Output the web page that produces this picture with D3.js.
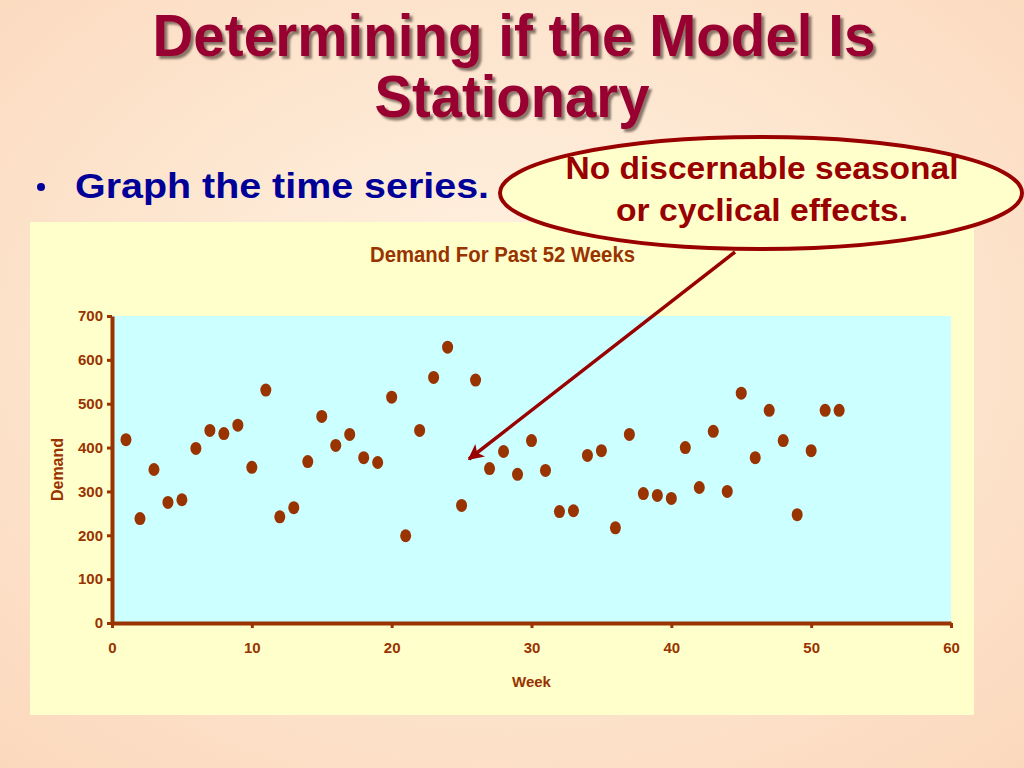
<!DOCTYPE html>
<html>
<head>
<meta charset="utf-8">
<script src="https://cdn.jsdelivr.net/npm/d3@7"></script>
<style>
  body { margin: 0; padding: 0; overflow: hidden; }
  svg { display: block; }
</style>
</head>
<body>
<div id="chart"></div>
<script>
const width = 1024;
const height = 768;

const weeks = d3.range(1, 53);
const demand = [
  418, 238, 350, 275, 281, 398, 439, 432, 451, 355,
  531, 242, 263, 368, 471, 405, 430, 377, 366, 515,
  199, 439, 560, 629, 268, 554, 352, 391, 339, 416,
  348, 254, 256, 382, 393, 217, 430, 295, 291, 284,
  400, 309, 437, 300, 524, 377, 485, 416, 247, 393,
  485, 485
];
const xTicks = [0, 10, 20, 30, 40, 50, 60];
const yTicks = [0, 100, 200, 300, 400, 500, 600, 700];

const sans = "'Liberation Sans', Arial, sans-serif";
const brown = "#993300";

const svg = d3.select("#chart")
    .append("svg")
    .attr("width", width)
    .attr("height", height);

const defs = svg.append("defs");
const bg = defs.append("radialGradient")
    .attr("id", "bg")
    .attr("cx", "50%").attr("cy", "45%").attr("r", "75%");
bg.append("stop").attr("offset", "0%").attr("stop-color", "#fff4e4");
bg.append("stop").attr("offset", "100%").attr("stop-color", "#fbd8bc");

defs.append("filter").attr("id", "shadow")
    .append("feDropShadow")
    .attr("dx", 3).attr("dy", 3).attr("stdDeviation", 0.8)
    .attr("flood-color", "#4a3a30").attr("flood-opacity", 0.65);

defs.append("marker")
    .attr("id", "head")
    .attr("viewBox", "0 0 10 10")
    .attr("refX", 9).attr("refY", 5)
    .attr("markerWidth", 5.5).attr("markerHeight", 4.5)
    .attr("orient", "auto")
    .append("path")
    .attr("d", "M0,0 L10,5 L0,10 L2.5,5 Z")
    .attr("fill", "#990000");

svg.append("rect")
    .attr("width", width).attr("height", height)
    .attr("fill", "url(#bg)");

// slide title, condensed to the original's width
const titleLines = [
    { text: "Determining if the Model Is", cx: 514, y: 56, len: 723 },
    { text: "Stationary", cx: 512, y: 117, len: 275 }
];
svg.append("g")
    .attr("filter", "url(#shadow)")
    .selectAll("text")
    .data(titleLines)
    .enter().append("text")
    .attr("x", d => d.cx)
    .attr("y", d => d.y)
    .attr("text-anchor", "middle")
    .attr("textLength", d => d.len)
    .attr("lengthAdjust", "spacingAndGlyphs")
    .style("font-family", sans)
    .style("font-weight", "bold")
    .style("font-size", "59px")
    .attr("fill", "#990033")
    .text(d => d.text);

// bullet
svg.append("circle")
    .attr("cx", 41).attr("cy", 187).attr("r", 4)
    .attr("fill", "#000099");
svg.append("text")
    .attr("x", 75).attr("y", 198)
    .attr("textLength", 414)
    .attr("lengthAdjust", "spacingAndGlyphs")
    .style("font-family", sans)
    .style("font-weight", "bold")
    .style("font-size", "35px")
    .attr("fill", "#000099")
    .text("Graph the time series.");

// chart box
svg.append("rect")
    .attr("x", 30).attr("y", 222)
    .attr("width", 944).attr("height", 493)
    .attr("fill", "#ffffcc");

const margin = { top: 316, right: 73, bottom: 145, left: 112 };

const x = d3.scaleLinear().domain([0, 60]).range([margin.left, width - margin.right]);
const y = d3.scaleLinear().domain([0, 700]).range([height - margin.bottom, margin.top]);

svg.append("rect")
    .attr("x", x(0)).attr("y", y(700))
    .attr("width", x(60) - x(0)).attr("height", y(0) - y(700))
    .attr("fill", "#ccffff");

svg.append("text")
    .attr("x", 370).attr("y", 262)
    .attr("textLength", 265)
    .attr("lengthAdjust", "spacingAndGlyphs")
    .style("font-family", sans)
    .style("font-weight", "bold")
    .style("font-size", "22px")
    .attr("fill", brown)
    .text("Demand For Past 52 Weeks");

const xAxis = svg.append("g")
    .attr("transform", `translate(0,${y(0)})`)
    .call(d3.axisBottom(x).tickValues(xTicks).tickSize(5).tickPadding(14).tickSizeOuter(0));
const yAxis = svg.append("g")
    .attr("transform", `translate(${x(0)},0)`)
    .call(d3.axisLeft(y).tickValues(yTicks).tickSize(5).tickPadding(4).tickSizeOuter(0));

[xAxis, yAxis].forEach(g => {
    g.select(".domain").attr("stroke", brown).attr("stroke-width", 4);
    g.selectAll(".tick line").attr("stroke", brown).attr("stroke-width", 3);
    g.selectAll(".tick text")
        .attr("fill", brown)
        .style("font-family", sans)
        .style("font-weight", "bold")
        .style("font-size", "15px");
});

svg.append("text")
    .attr("x", x(30)).attr("y", 687)
    .attr("text-anchor", "middle")
    .style("font-family", sans)
    .style("font-weight", "bold")
    .style("font-size", "15px")
    .attr("fill", brown)
    .text("Week");

svg.append("text")
    .attr("transform", `translate(63,${y(350)}) rotate(-90)`)
    .attr("text-anchor", "middle")
    .style("font-family", sans)
    .style("font-weight", "bold")
    .style("font-size", "16px")
    .attr("fill", brown)
    .text("Demand");

svg.append("g")
    .selectAll(".dot")
    .data(weeks)
    .enter().append("ellipse")
    .attr("class", "dot")
    .attr("cx", d => x(d))
    .attr("cy", (d, i) => y(demand[i]))
    .attr("rx", 5.5)
    .attr("ry", 6.5)
    .attr("fill", brown);

// callout
svg.append("line")
    .attr("x1", 735).attr("y1", 252)
    .attr("x2", 469).attr("y2", 459)
    .attr("stroke", "#990000")
    .attr("stroke-width", 3.5)
    .attr("marker-end", "url(#head)");

svg.append("ellipse")
    .attr("cx", 761).attr("cy", 193)
    .attr("rx", 261).attr("ry", 56)
    .attr("fill", "#ffffcc")
    .attr("stroke", "#990000")
    .attr("stroke-width", 4);

const calloutLines = [
    { text: "No discernable seasonal", y: 179, len: 393 },
    { text: "or cyclical effects.", y: 221, len: 292 }
];
svg.append("g")
    .selectAll("text")
    .data(calloutLines)
    .enter().append("text")
    .attr("x", 762)
    .attr("y", d => d.y)
    .attr("text-anchor", "middle")
    .attr("textLength", d => d.len)
    .attr("lengthAdjust", "spacingAndGlyphs")
    .style("font-family", sans)
    .style("font-weight", "bold")
    .style("font-size", "31px")
    .attr("fill", "#990000")
    .text(d => d.text);
</script>
</body>
</html>
